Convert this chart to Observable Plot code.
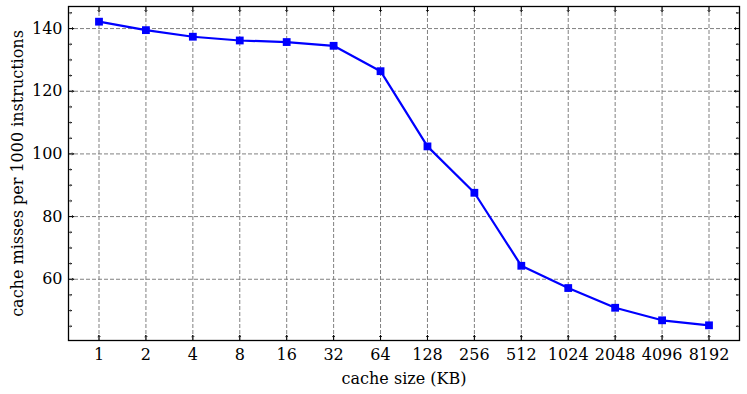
<!DOCTYPE html>
<html>
<head>
<meta charset="utf-8">
<script src="https://cdn.jsdelivr.net/npm/d3@7"></script>
<script src="https://cdn.jsdelivr.net/npm/@observablehq/plot@0.6"></script>
<style>
  html, body { margin: 0; padding: 0; background: #fff; }
</style>
</head>
<body>
<div id="chart"></div>
<script>
const cacheSizes = [1, 2, 4, 8, 16, 32, 64, 128, 256, 512, 1024, 2048, 4096, 8192];
const missesPer1000 = [142.2, 139.5, 137.4, 136.2, 135.7, 134.5, 126.4, 102.4, 87.6, 64.3, 57.2, 50.9, 46.9, 45.3];
const yMajorTicks = [60, 80, 100, 120, 140];
const xLabel = "cache size (KB)";
const yLabel = "cache misses per 1000 instructions";

const data = cacheSizes.map((s, i) => ({size: s, misses: missesPer1000[i]}));

const lx0 = Math.log2(d3.min(cacheSizes)), lx1 = Math.log2(d3.max(cacheSizes));
const px = (lx1 - lx0) * 0.05;
const xDomain = [2 ** (lx0 - px), 2 ** (lx1 + px)];
const y0 = d3.min(missesPer1000), y1 = d3.max(missesPer1000);
const py = (y1 - y0) * 0.05;
const yDomain = [y0 - py, y1 + py];
const yMinorTicks = d3.range(Math.ceil(yDomain[0] / 5) * 5, yDomain[1], 5).filter(v => v % 20 !== 0);

const fs = 16;
const tickColor = "#000";
const gridStyle = {stroke: "#808080", strokeOpacity: 1, strokeWidth: 1, strokeDasharray: "4,2"};
const chart = Plot.plot({
  width: 747,
  height: 394,
  marginLeft: 68,
  marginRight: 8,
  marginTop: 6,
  marginBottom: 54,
  style: {fontFamily: "'DejaVu Serif', serif", fontSize: fs + "px", color: "#000", background: "#fff"},
  x: {type: "log", base: 2, domain: xDomain},
  y: {domain: yDomain},
  marks: [
    Plot.gridX(cacheSizes, gridStyle),
    Plot.gridY(yMajorTicks, gridStyle),
    Plot.axisX(cacheSizes, {tickSize: 0, tickPadding: 8, tickFormat: d => String(d), label: null, fontSize: fs}),
    Plot.axisY(yMajorTicks, {tickSize: 0, tickPadding: 6, label: null, fontSize: fs}),
    Plot.vector(cacheSizes, {x: d => d, y: yDomain[0], length: 5, rotate: 0, anchor: "start", stroke: tickColor, strokeWidth: 1}),
    Plot.vector(cacheSizes, {x: d => d, y: yDomain[1], length: 5, rotate: 180, anchor: "start", stroke: tickColor, strokeWidth: 1}),
    Plot.vector(yMajorTicks, {x: xDomain[0], y: d => d, length: 5, rotate: 90, anchor: "start", stroke: tickColor, strokeWidth: 1}),
    Plot.vector(yMajorTicks, {x: xDomain[1], y: d => d, length: 5, rotate: -90, anchor: "start", stroke: tickColor, strokeWidth: 1}),
    Plot.vector(yMinorTicks, {x: xDomain[0], y: d => d, length: 3, rotate: 90, anchor: "start", stroke: tickColor, strokeWidth: 0.8}),
    Plot.vector(yMinorTicks, {x: xDomain[1], y: d => d, length: 3, rotate: -90, anchor: "start", stroke: tickColor, strokeWidth: 0.8}),
    Plot.line(data, {x: "size", y: "misses", stroke: "#0000ff", strokeWidth: 2.2}),
    Plot.dot(data, {x: "size", y: "misses", symbol: "square", r: 4.4, fill: "#0000ff", stroke: "none"}),
    Plot.frame({stroke: "#000", strokeWidth: 1.3}),
    Plot.text([xLabel], {frameAnchor: "bottom", dy: 38, lineAnchor: "middle", textAnchor: "middle", fontSize: fs, fill: "#000"}),
    Plot.text([yLabel], {frameAnchor: "left", dx: -51, rotate: -90, lineAnchor: "middle", textAnchor: "middle", fontSize: fs, fill: "#000"})
  ]
});
document.getElementById("chart").appendChild(chart);
</script>
</body>
</html>
